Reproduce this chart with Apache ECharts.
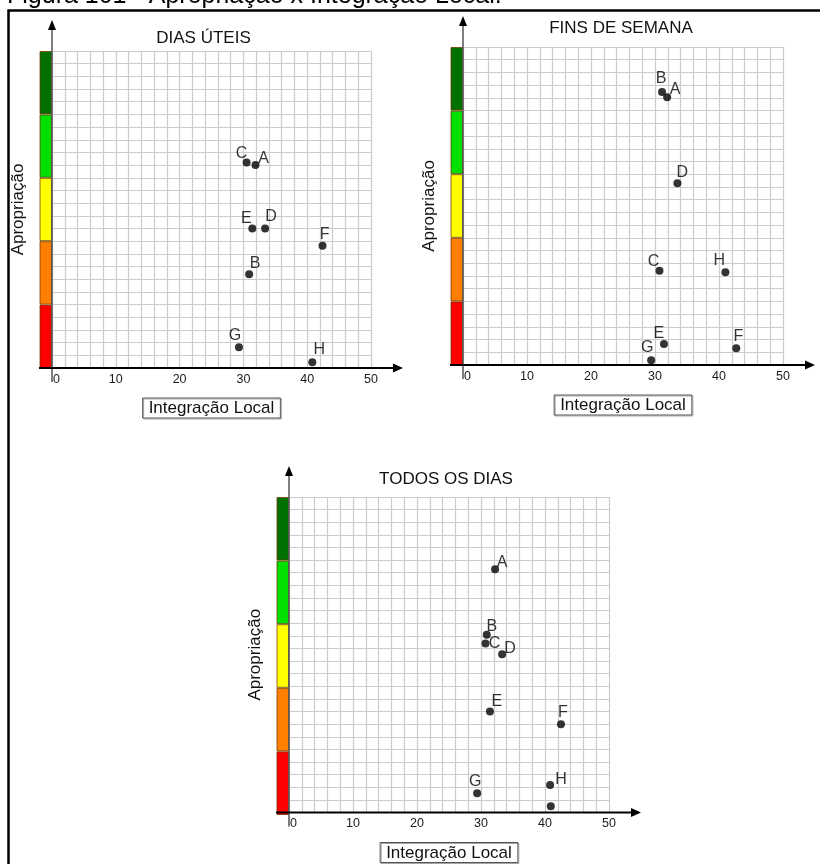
<!DOCTYPE html>
<html>
<head>
<meta charset="utf-8">
<script src="https://cdn.jsdelivr.net/npm/echarts@6/dist/echarts.min.js"></script>
<style>
html,body{margin:0;padding:0;background:#fff;}
#c{width:820px;height:864px;}
</style>
</head>
<body>
<div id="c"></div>
<script>
// ---------- DATA ----------
const figureTitle = 'Figura 101 - Apropriação x Integração Local.';
const panelTitles = ['DIAS ÚTEIS', 'FINS DE SEMANA', 'TODOS OS DIAS'];
const xAxisName = 'Integração Local';
const yAxisName = 'Apropriação';
const xTickLabels = [0, 10, 20, 30, 40, 50];

// Dias úteis
const diasUteisNames = ['C', 'A', 'E', 'D', 'F', 'B', 'G', 'H'];
const diasUteisX = [30.5, 31.9, 31.4, 33.4, 42.4, 30.9, 29.3, 40.8];
const diasUteisY = [16.2, 16.0, 11.0, 11.0, 9.65, 7.4, 1.63, 0.45];

// Fins de semana
const finsSemanaNames = ['B', 'A', 'D', 'C', 'H', 'E', 'F', 'G'];
const finsSemanaX = [31.1, 31.9, 33.5, 30.7, 41.0, 31.4, 42.7, 29.4];
const finsSemanaY = [21.47, 21.05, 14.28, 7.4, 7.3, 1.65, 1.31, 0.37];

// Todos os dias
const todosDiasNames = ['A', 'B', 'C', 'D', 'E', 'F', 'G', 'H', ''];
const todosDiasX = [32.2, 30.9, 30.7, 33.3, 31.4, 42.5, 29.4, 40.8, 40.9];
const todosDiasY = [19.28, 14.08, 13.4, 12.53, 8.0, 7.0, 1.52, 2.18, 0.5];

// Apropriação scale bands (bottom to top)
const bandSizes = [5, 5, 5, 5, 5];

// ---------- STYLE / LAYOUT ----------
const FONT = "'Liberation Sans', Arial, Helvetica, sans-serif";
const bandColors = ['#ff0000', '#ff8000', '#ffff00', '#00e000', '#007000'];
const gridsPx = [
  {left: 52, top: 51, width: 319, height: 317},
  {left: 463, top: 47, width: 320, height: 318},
  {left: 289, top: 497, width: 320, height: 318}
];
const titlePos = [[203.5, 38], [621, 28.5], [446, 479.5]];
const labelOffsets = [
  [[-5, -9], [8, -7], [-6, -10], [6, -12], [2, -11], [6, -11], [-4, -12], [7, -13]],
  [[-1, -13], [8, -8], [5, -11], [-6, -9], [-6, -12], [-5, -10], [2, -12], [-4, -13]],
  [[7, -7], [5, -8], [9, 0], [8, -6], [7, -10], [2, -12], [-2, -12], [11, -5], [0, 0]]
];
const panels = [
  {names: diasUteisNames, xs: diasUteisX, ys: diasUteisY},
  {names: finsSemanaNames, xs: finsSemanaX, ys: finsSemanaY},
  {names: todosDiasNames, xs: todosDiasX, ys: todosDiasY}
];
const BAR_W = 12.5;
const X_MAX = 50, Y_MAX = 25;

const chart = echarts.init(document.getElementById('c'), null, {renderer: 'canvas'});

const grid = [], xAxis = [], yAxis = [], series = [];
gridsPx.forEach((g, i) => {
  grid.push({left: g.left, top: g.top, width: g.width, height: g.height, containLabel: false});
  xAxis.push({
    type: 'value', gridIndex: i, min: 0, max: X_MAX, interval: 2,
    axisLine: {show: false}, axisTick: {show: false},
    axisLabel: {
      margin: 5, color: '#1a1a1a', fontSize: 12.5, fontFamily: FONT,
      formatter: v => xTickLabels.indexOf(v) < 0 ? '' : (v === 0 ? '{z|0}' : String(v)),
      rich: {z: {padding: [0, 0, 0, 9], fontSize: 12.5, color: '#1a1a1a', fontFamily: FONT}}
    },
    splitLine: {show: true, lineStyle: {color: '#cbcbcb', width: 1.2}},
    name: xAxisName, nameLocation: 'middle', nameGap: 30,
    nameTextStyle: {
      fontSize: 17, fontFamily: FONT, color: '#111',
      borderColor: '#555', borderWidth: 1, padding: [2, 6, 1, 6],
      shadowColor: 'rgba(0,0,0,0.35)', shadowOffsetX: 1, shadowOffsetY: 1, shadowBlur: 0
    }
  });
  yAxis.push({
    type: 'value', gridIndex: i, min: 0, max: Y_MAX, interval: 1,
    axisLine: {show: false}, axisTick: {show: false}, axisLabel: {show: false},
    splitLine: {show: true, lineStyle: {color: '#cbcbcb', width: 1.2}},
    name: yAxisName, nameLocation: 'middle', nameGap: 25, nameRotate: 90,
    nameTextStyle: {fontSize: 17, fontFamily: FONT, color: '#111'}
  });
  const p = panels[i];
  series.push({
    type: 'scatter', xAxisIndex: i, yAxisIndex: i,
    symbolSize: 8, itemStyle: {color: '#000'},
    clip: false,
    label: {show: true, position: 'inside', formatter: '{b}', fontSize: 16, fontFamily: FONT, color: '#000'},
    data: p.xs.map((x, k) => ({
      name: p.names[k], value: [x, p.ys[k]],
      label: {offset: labelOffsets[i][k]}
    })),
    z: 5
  });
});
// color bar grids
gridsPx.forEach((g, i) => {
  const gi = grid.length;
  grid.push({left: g.left - BAR_W, top: g.top, width: BAR_W, height: g.height, containLabel: false});
  xAxis.push({type: 'category', gridIndex: gi, data: ['Apropriação'], show: false});
  yAxis.push({type: 'value', gridIndex: gi, min: 0, max: Y_MAX, show: false});
  bandSizes.forEach((b, k) => {
    series.push({
      type: 'bar', xAxisIndex: gi, yAxisIndex: gi, stack: 'bands' + i,
      barWidth: '100%', silent: true,
      itemStyle: {color: bandColors[k], borderColor: 'rgba(110,50,0,0.75)', borderWidth: 1},
      data: [b]
    });
  });
});

chart.setOption({
  animation: false,
  backgroundColor: '#fff',
  textStyle: {fontFamily: FONT},
  grid, xAxis, yAxis, series
});

// ---------- decoration graphics from axis pixels ----------
const graphics = [];
graphics.push({
  type: 'text', x: 7, y: -3.7, z: 100,
  style: {text: figureTitle, font: '25px ' + FONT, fill: '#000', textVerticalAlign: 'middle', textAlign: 'left'}
});
graphics.push({
  type: 'rect', z: 100,
  shape: {x: 8.5, y: 10.5, width: 1000, height: 1000},
  style: {fill: 'none', stroke: '#000', lineWidth: 2.5}
});
gridsPx.forEach((g, i) => {
  const o = chart.convertToPixel({xAxisIndex: i, yAxisIndex: i}, [0, 0]);
  const tr = chart.convertToPixel({xAxisIndex: i, yAxisIndex: i}, [X_MAX, Y_MAX]);
  const yTip = tr[1] - 31, xTip = tr[0] + 32;
  graphics.push({type: 'line', z: 100, shape: {x1: o[0], y1: o[1] + 14, x2: o[0], y2: yTip + 8},
    style: {stroke: '#555', lineWidth: 1.5}});
  graphics.push({type: 'polygon', z: 100, shape: {points: [[o[0], yTip], [o[0] - 4, yTip + 10], [o[0] + 4, yTip + 10]]},
    style: {fill: '#000'}});
  graphics.push({type: 'line', z: 100, shape: {x1: o[0] - BAR_W - 0.5, y1: o[1], x2: xTip - 8, y2: o[1]},
    style: {stroke: '#000', lineWidth: 2}});
  graphics.push({type: 'polygon', z: 100, shape: {points: [[xTip, o[1]], [xTip - 10, o[1] - 4.5], [xTip - 10, o[1] + 4.5]]},
    style: {fill: '#000'}});
  graphics.push({
    type: 'text', z: 100, x: titlePos[i][0], y: titlePos[i][1],
    style: {text: panelTitles[i], font: '17px ' + FONT, fill: '#111', textAlign: 'center', textVerticalAlign: 'middle'}
  });
});
chart.setOption({graphic: graphics});
</script>
</body>
</html>
